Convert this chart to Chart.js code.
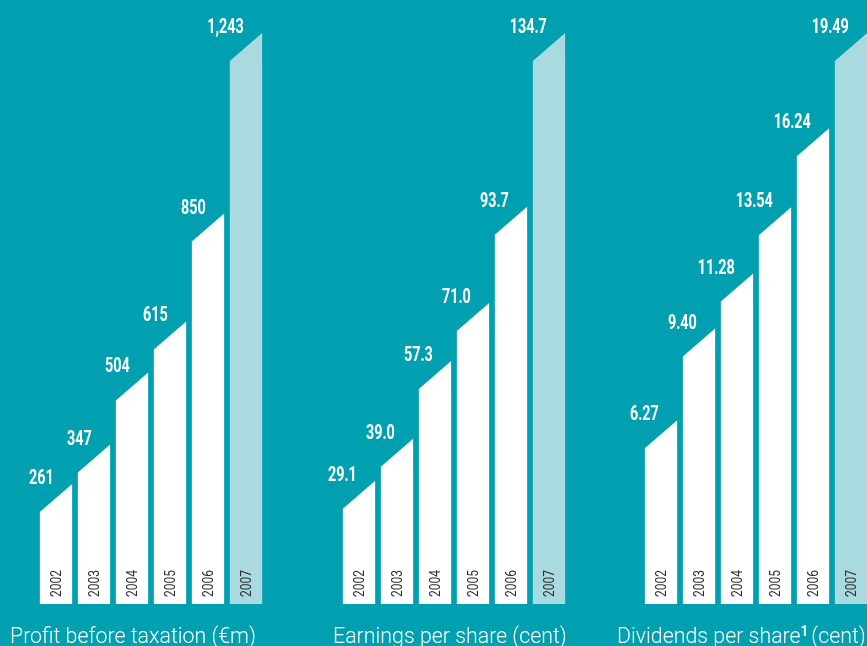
<!DOCTYPE html>
<html>
<head>
<meta charset="utf-8">
<script src="https://cdn.jsdelivr.net/npm/chart.js@4/dist/chart.umd.min.js"></script>
<style>
  html, body { margin: 0; padding: 0; }
  body { width: 867px; height: 646px; background: #00a0b0; overflow: hidden; position: relative;
         font-family: Roboto, "Noto Sans", sans-serif; }
  .panel { position: absolute; left: 0; top: 0; width: 880px; height: 646px; }
  .caption { position: absolute; top: 623px; color: #fff; font-size: 22px; font-weight: 300; line-height: 26px;
             white-space: nowrap; transform: scaleX(0.97); transform-origin: 0 0; }
  .caption sup { font-size: 14px; font-weight: 700; vertical-align: 7px; line-height: 0; margin-right: 3px; }
</style>
</head>
<body>
<div class="panel"><canvas id="profitChart"></canvas></div>
<div class="panel"><canvas id="epsChart"></canvas></div>
<div class="panel"><canvas id="dpsChart"></canvas></div>
<div class="caption" style="left:10px">Profit before taxation (€m)</div>
<div class="caption" style="left:333px">Earnings per share (cent)</div>
<div class="caption" style="left:617px">Dividends per share<sup>1</sup>(cent)</div>
<script>
const years = ['2002','2003','2004','2005','2006','2007'];
const profit = [261, 347, 504, 615, 850, 1243];
const eps = [29.1, 39.0, 57.3, 71.0, 93.7, 134.7];
const dps = [6.27, 9.40, 11.28, 13.54, 16.24, 19.49];

const BAR = '#ffffff';
const LAST_BAR = '#a9dae0';
const SLANT = 28;

// bars are drawn by hand so the tops can be cut on a slant
function slantedBars(fmt) {
  return {
    id: 'slantedBars',
    beforeDatasetDraw() { return false; },
    afterDraw(chart) {
      const ctx = chart.ctx;
      chart.data.datasets.forEach((ds, di) => {
        chart.getDatasetMeta(di).data.forEach((el, i) => {
          const p = el.getProps(['x', 'y', 'base', 'width'], true);
          const l = p.x - p.width / 2, r = p.x + p.width / 2;
          ctx.save();
          ctx.fillStyle = ds.backgroundColor[i];
          ctx.beginPath();
          ctx.moveTo(l, p.base);
          ctx.lineTo(l, p.y + SLANT);
          ctx.lineTo(r, p.y);
          ctx.lineTo(r, p.base);
          ctx.closePath();
          ctx.fill();
          ctx.restore();

          // value above the bar, narrowed to a condensed face
          ctx.save();
          ctx.translate(l + 14, p.y);
          ctx.scale(0.72, 1);
          ctx.fillStyle = '#fff';
          ctx.font = 'bold 20px Roboto, sans-serif';
          ctx.textAlign = 'right';
          ctx.textBaseline = 'alphabetic';
          ctx.fillText(fmt(ds.data[i]), 0, 0);
          ctx.restore();

          // year, running up from the foot of the bar
          ctx.save();
          ctx.translate(p.x + 1.5, p.base - 7);
          ctx.rotate(-Math.PI / 2);
          ctx.scale(0.8, 1);
          ctx.fillStyle = '#2e2e2e';
          ctx.font = '15px Roboto, sans-serif';
          ctx.textAlign = 'left';
          ctx.textBaseline = 'middle';
          ctx.fillText(chart.data.labels[i], 0, 0);
          ctx.restore();
        });
      });
    }
  };
}

function makeChart(id, values, padLeft, fmt) {
  return new Chart(document.getElementById(id), {
    type: 'bar',
    data: {
      labels: years,
      datasets: [{
        data: values,
        backgroundColor: values.map((v, i) => i === values.length - 1 ? LAST_BAR : BAR),
        categoryPercentage: 1,
        barPercentage: 0.85
      }]
    },
    options: {
      responsive: false,
      animation: false,
      layout: { padding: { left: padLeft, right: 880 - padLeft - 228, top: 33, bottom: 42 } },
      plugins: {
        legend: { display: false },
        tooltip: { enabled: false }
      },
      scales: {
        x: { display: false },
        y: { display: false, min: 0, max: Math.max(...values) }
      }
    },
    plugins: [slantedBars(fmt)]
  });
}

function sizeCanvas(id) {
  const c = document.getElementById(id);
  c.width = 880; c.height = 646;
  c.style.width = '880px'; c.style.height = '646px';
}
['profitChart', 'epsChart', 'dpsChart'].forEach(sizeCanvas);

makeChart('profitChart', profit, 37, v => v.toLocaleString('en-US'));
makeChart('epsChart', eps, 340, v => v.toFixed(1));
makeChart('dpsChart', dps, 642, v => v.toFixed(2));
</script>
</body>
</html>
